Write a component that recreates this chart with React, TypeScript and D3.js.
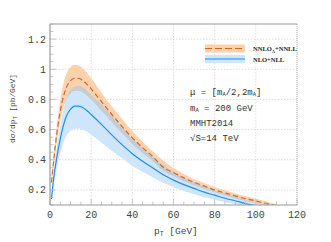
import React from "react";
import * as d3 from "d3";

const pT = [0.7, 2, 3, 4, 6, 8, 10, 12, 14, 16, 18, 20, 25, 30, 35, 40, 45, 50, 55, 60, 65, 70, 75, 80, 85, 90, 95, 100, 105, 110, 115];
const nnloCentral = [0.25, 0.42, 0.54, 0.64, 0.79, 0.88, 0.925, 0.94, 0.94, 0.925, 0.9, 0.87, 0.785, 0.7, 0.62, 0.545, 0.48, 0.42, 0.35, 0.315, 0.28, 0.25, 0.225, 0.2, 0.18, 0.16, 0.142, 0.127, 0.11, 0.095, 0.082];
const nnloHi = [0.27, 0.46, 0.59, 0.7, 0.87, 0.97, 1.015, 1.03, 1.025, 1.005, 0.975, 0.94, 0.845, 0.755, 0.67, 0.59, 0.52, 0.455, 0.395, 0.345, 0.305, 0.27, 0.245, 0.22, 0.198, 0.177, 0.158, 0.142, 0.124, 0.104, 0.09];
const nnloLo = [0.23, 0.38, 0.49, 0.58, 0.72, 0.8, 0.84, 0.855, 0.855, 0.845, 0.825, 0.8, 0.725, 0.65, 0.575, 0.505, 0.445, 0.39, 0.325, 0.29, 0.257, 0.23, 0.207, 0.183, 0.164, 0.145, 0.127, 0.113, 0.097, 0.083, 0.07];
const nloCentral = [0.14, 0.3, 0.39, 0.47, 0.6, 0.69, 0.735, 0.755, 0.755, 0.745, 0.725, 0.7, 0.635, 0.565, 0.5, 0.44, 0.39, 0.345, 0.3, 0.265, 0.235, 0.21, 0.185, 0.165, 0.145, 0.128, 0.11, 0.095, 0.08, 0.068, 0.058];
const nloHi = [0.16, 0.34, 0.45, 0.54, 0.7, 0.81, 0.86, 0.885, 0.89, 0.88, 0.86, 0.83, 0.77, 0.69, 0.615, 0.54, 0.478, 0.42, 0.365, 0.32, 0.283, 0.252, 0.224, 0.198, 0.176, 0.155, 0.135, 0.118, 0.1, 0.085, 0.072];
const nloLo = [0.12, 0.25, 0.32, 0.39, 0.49, 0.56, 0.59, 0.605, 0.605, 0.598, 0.585, 0.565, 0.515, 0.46, 0.41, 0.36, 0.32, 0.283, 0.247, 0.218, 0.193, 0.172, 0.152, 0.135, 0.119, 0.105, 0.09, 0.078, 0.066, 0.056, 0.048];

const xTicks = [0, 20, 40, 60, 80, 100, 120];
const yTicks = [0.2, 0.4, 0.6, 0.8, 1, 1.2];

const W = 331, H = 242;
const L = 50, R = 297, T = 24, B = 205;

export default function App() {
  const x = d3.scaleLinear().domain([0, 120]).range([L, R]);
  const y = d3.scaleLinear().domain([0.1, 1.3]).range([B, T]);
  const idx = pT.map((_, i) => i);
  const curve = d3.curveMonotoneX;
  const band = (lo: number[], hi: number[]) =>
    d3.area<number>().x(i => x(pT[i])).y0(i => y(lo[i])).y1(i => y(hi[i])).curve(curve)(idx) || "";
  const line = (v: number[]) => d3.line<number>().x(i => x(pT[i])).y(i => y(v[i])).curve(curve)(idx) || "";
  const overlap =
    d3.area<number>()
      .x(i => x(pT[i]))
      .y0(i => y(Math.max(nnloLo[i], nloLo[i])))
      .y1(i => y(Math.max(Math.max(nnloLo[i], nloLo[i]), Math.min(nnloHi[i], nloHi[i]))))
      .curve(curve)(idx) || "";

  const xMinor = d3.range(0, 121, 5);
  const yMinor = d3.range(0.1, 1.3001, 0.05);
  const mono = "'Liberation Mono', 'DejaVu Sans Mono', monospace";
  const tc = "#444";

  return (
    <svg width={W} height={H} style={{ position: "absolute", left: 0, top: 0, background: "#fff" }}>
      <defs>
        <clipPath id="plot">
          <rect x={L} y={T} width={R - L} height={B - T} />
        </clipPath>
      </defs>
      {xTicks.slice(1, -1).map(t => (
        <line key={"gx" + t} x1={x(t)} x2={x(t)} y1={T} y2={B} stroke="#d4d4d4" strokeWidth={0.8} strokeDasharray="1.5,1.5" />
      ))}
      {yTicks.map(t => (
        <line key={"gy" + t} x1={L} x2={R} y1={y(t)} y2={y(t)} stroke="#d4d4d4" strokeWidth={0.8} strokeDasharray="1.5,1.5" />
      ))}
      <g clipPath="url(#plot)">
        <path d={band(nnloLo, nnloHi)} fill="#fdd1ac" />
        <path d={band(nloLo, nloHi)} fill="#cfe5fc" />
        <path d={overlap} fill="#cacbcd" />
        <path d={line(nloCentral)} fill="none" stroke="#1e8fe6" strokeWidth={1.2} />
        <path d={line(nnloCentral)} fill="none" stroke="#d2692e" strokeWidth={1.2} strokeDasharray="5,3" />
      </g>
      {xMinor.map(t => (
        <line key={"mx" + t} x1={x(t)} x2={x(t)} y1={B} y2={B - (t % 20 === 0 ? 6 : 3.5)} stroke="#bbb" strokeWidth={0.8} />
      ))}
      {yMinor.map(t => (
        <line key={"my" + t} x1={L} x2={L + (Math.abs(Math.round(t * 5) - t * 5) < 1e-6 ? 6 : 3.5)} y1={y(t)} y2={y(t)} stroke="#bbb" strokeWidth={0.8} />
      ))}
      <line x1={L} x2={R} y1={T} y2={T} stroke="#999" strokeWidth={1} />
      <line x1={R} x2={R} y1={T} y2={B} stroke="#888" strokeWidth={0.8} strokeDasharray="1,1" />
      <line x1={L} x2={L} y1={T} y2={B} stroke="#999" strokeWidth={1.2} />
      <line x1={L} x2={R} y1={B} y2={B} stroke="#999" strokeWidth={1.2} />
      {xTicks.map(t => (
        <text key={"tx" + t} x={x(t)} y={217.5} textAnchor="middle" fontFamily={mono} fontSize={10} fill={tc}>{t}</text>
      ))}
      {yTicks.map(t => (
        <text key={"ty" + t} x={46} y={y(t) + 3.5} textAnchor="end" fontFamily={mono} fontSize={10} fill={tc}>{t === 1 ? "1" : t.toFixed(1)}</text>
      ))}
      <text x={154} y={234} fontFamily={mono} fontSize={9.5} fill={tc}>
        p<tspan fontSize={6.5} dy={2}>T</tspan><tspan dy={-2}> [GeV]</tspan>
      </text>
      <text transform="translate(15,143) rotate(-90)" fontFamily={mono} fontSize={7.8} fill={tc}>
        dσ/dp<tspan fontSize={5.5} dy={2}>T</tspan><tspan dy={-2}> [pb/GeV]</tspan>
      </text>
      <rect x={205} y={44.5} width={40} height={8} fill="#fdd1ac" />
      <line x1={205} x2={245} y1={48.5} y2={48.5} stroke="#d2692e" strokeWidth={1.2} strokeDasharray="7,3" />
      <rect x={205} y={55} width={40} height={8} fill="#cfe5fc" />
      <line x1={205} x2={245} y1={59} y2={59} stroke="#1e8fe6" strokeWidth={1.2} />
      <text x={253} y={51} fontFamily="'Liberation Serif', serif" fontWeight="bold" fontSize={6.5} fill="#222">
        NNLO<tspan fontSize={4.5} dy={1.5}>A</tspan><tspan dy={-1.5}>+NNLL</tspan>
      </text>
      <text x={253} y={61.5} fontFamily="'Liberation Serif', serif" fontWeight="bold" fontSize={6.5} fill="#222">NLO+NLL</text>
      <g fontFamily={mono} fontSize={9} fill="#333">
        <text x={190} y={94.5}>μ = [m<tspan fontSize={5.5} dy={1.5}>A</tspan><tspan dy={-1.5}>/2,2m</tspan><tspan fontSize={5.5} dy={1.5}>A</tspan><tspan dy={-1.5}>]</tspan></text>
        <text x={190} y={110.5}>m<tspan fontSize={5.5} dy={1.5}>A</tspan><tspan dy={-1.5}> = 200 GeV</tspan></text>
        <text x={190} y={126}>MMHT2014</text>
        <text x={190} y={140.5}>√S=14 TeV</text>
      </g>
    </svg>
  );
}
